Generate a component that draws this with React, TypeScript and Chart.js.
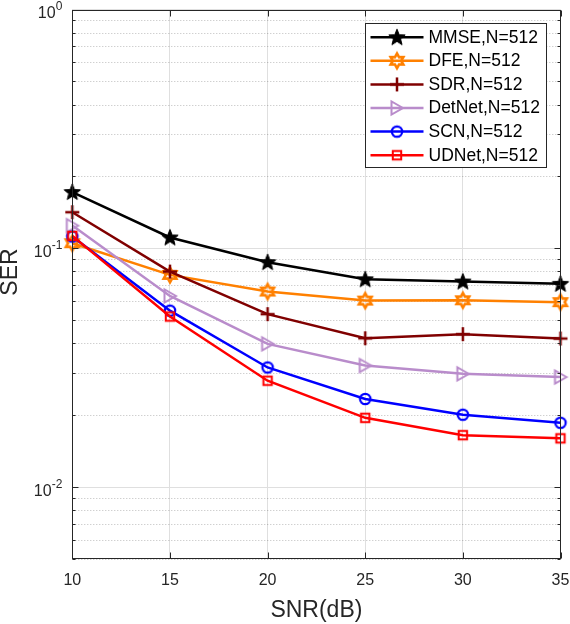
import React, { useEffect, useRef } from 'react';
import { Chart, registerables } from 'chart.js';

Chart.register(...registerables);

// ---- data ----
const snr = [10, 15, 20, 25, 30, 35];
const mmse = [0.172, 0.111, 0.0875, 0.0742, 0.0726, 0.071];
const dfe = [0.105, 0.0774, 0.0659, 0.0604, 0.0606, 0.0595];
const sdr = [0.1416, 0.0799, 0.053, 0.042, 0.0437, 0.0419];
const detnet = [0.1245, 0.0632, 0.0398, 0.0323, 0.0298, 0.0289];
const scn = [0.112, 0.0548, 0.0317, 0.0234, 0.0201, 0.0186];
const udnet = [0.1127, 0.0518, 0.0279, 0.0195, 0.0165, 0.016];

const seriesLabels = ['MMSE,N=512', 'DFE,N=512', 'SDR,N=512', 'DetNet,N=512', 'SCN,N=512', 'UDNet,N=512'];
const seriesValues = [mmse, dfe, sdr, detnet, scn, udnet];
const seriesColors = ['#000000', '#ff8000', '#800000', '#b98ccb', '#0000ff', '#ff0000'];
const markerKinds = ['pentagram', 'hexagram', 'plus', 'triRight', 'circle', 'square'];

const yTickValues = [
  0.005, 0.006, 0.007, 0.008, 0.009,
  0.01, 0.02, 0.03, 0.04, 0.05, 0.06, 0.07, 0.08, 0.09,
  0.1, 0.2, 0.3, 0.4, 0.5, 0.6, 0.7, 0.8, 0.9,
  1,
];
const yDecades = [1, 0.1, 0.01];
const yDecadeExponents = ['0', '-1', '-2'];
const xTickStep = 5;
const xTitle = 'SNR(dB)';
const yTitle = 'SER';

const FONT = "'Liberation Sans', Arial, Helvetica, sans-serif";
const AXIS_COLOR = '#262626';
const GRID_COLOR = '#dfdfdf';

function makeMarker(kind: string, color: string): HTMLCanvasElement {
  const S = 22;
  const c = document.createElement('canvas');
  c.width = S;
  c.height = S;
  const g = c.getContext('2d')!;
  const cx = S / 2;
  const cy = S / 2;
  g.strokeStyle = color;
  g.fillStyle = color;
  g.lineJoin = 'miter';
  g.beginPath();
  if (kind === 'pentagram') {
    const R = 8.6;
    const r = 3.7;
    for (let i = 0; i < 10; i++) {
      const ang = -Math.PI / 2 + (i * Math.PI) / 5;
      const rad = i % 2 === 0 ? R : r;
      const px = cx + rad * Math.cos(ang);
      const py = cy + 0.5 + rad * Math.sin(ang);
      if (i === 0) g.moveTo(px, py);
      else g.lineTo(px, py);
    }
    g.closePath();
    g.fill();
    g.lineWidth = 1;
    g.stroke();
  } else if (kind === 'hexagram') {
    const R = 7.3;
    const r = R / Math.sqrt(3);
    for (let i = 0; i < 12; i++) {
      const ang = -Math.PI / 2 + (i * Math.PI) / 6;
      const rad = i % 2 === 0 ? R : r;
      const px = cx + rad * Math.cos(ang);
      const py = cy + rad * Math.sin(ang);
      if (i === 0) g.moveTo(px, py);
      else g.lineTo(px, py);
    }
    g.closePath();
    g.lineWidth = 2.6;
    g.stroke();
  } else if (kind === 'plus') {
    g.moveTo(cx - 7, cy);
    g.lineTo(cx + 7, cy);
    g.moveTo(cx, cy - 7);
    g.lineTo(cx, cy + 7);
    g.lineWidth = 2.5;
    g.stroke();
  } else if (kind === 'triRight') {
    g.moveTo(cx + 6, cy);
    g.lineTo(cx - 5.5, cy - 6.5);
    g.lineTo(cx - 5.5, cy + 6.5);
    g.closePath();
    g.lineWidth = 2;
    g.stroke();
  } else if (kind === 'circle') {
    g.arc(cx, cy, 5.2, 0, Math.PI * 2);
    g.lineWidth = 2.2;
    g.stroke();
  } else if (kind === 'square') {
    g.rect(cx - 4.2, cy - 4.2, 8.4, 8.4);
    g.lineWidth = 2;
    g.stroke();
  }
  return c;
}

const matlabPlugin = {
  id: 'matlabStyle',
  beforeDatasetsDraw(chart: any) {
    const { ctx, chartArea: a, scales } = chart;
    const y = scales.y;
    ctx.save();
    ctx.strokeStyle = 'rgba(38,38,38,0.3)';
    ctx.lineWidth = 1;
    ctx.setLineDash([1, 2]);
    for (const v of yTickValues) {
      if (yDecades.includes(v)) continue;
      const py = Math.round(y.getPixelForValue(v)) + 0.5;
      ctx.beginPath();
      ctx.moveTo(a.left, py);
      ctx.lineTo(a.right, py);
      ctx.stroke();
    }
    ctx.restore();
  },
  afterDraw(chart: any) {
    const { ctx, chartArea: a, scales } = chart;
    const x = scales.x;
    const y = scales.y;
    ctx.save();
    // axes box
    ctx.strokeStyle = AXIS_COLOR;
    ctx.lineWidth = 1;
    ctx.setLineDash([]);
    const L = Math.round(a.left) + 0.5;
    const R = Math.round(a.right) - 0.5;
    const T = Math.round(a.top) + 0.5;
    const B = Math.round(a.bottom) - 0.5;
    ctx.strokeRect(L, T, R - L, B - T);
    // x ticks (inward, top & bottom)
    ctx.beginPath();
    for (let v = x.min; v <= x.max + 1e-9; v += xTickStep) {
      const px = Math.round(x.getPixelForValue(v)) + 0.5;
      ctx.moveTo(px, B);
      ctx.lineTo(px, B - 6);
      ctx.moveTo(px, T);
      ctx.lineTo(px, T + 6);
    }
    // y ticks (inward, left & right)
    for (const v of yTickValues) {
      const len = yDecades.includes(v) ? 6 : 3;
      const py = Math.round(y.getPixelForValue(v)) + 0.5;
      ctx.moveTo(L, py);
      ctx.lineTo(L + len, py);
      ctx.moveTo(R, py);
      ctx.lineTo(R - len, py);
    }
    ctx.stroke();

    // y decade labels 10^n
    ctx.fillStyle = AXIS_COLOR;
    ctx.textBaseline = 'alphabetic';
    ctx.textAlign = 'left';
    const labelRight = a.left - 10;
    yDecades.forEach((v, i) => {
      const py = y.getPixelForValue(v);
      const exp = yDecadeExponents[i];
      ctx.font = `12px ${FONT}`;
      const w2 = ctx.measureText(exp).width;
      ctx.font = `16px ${FONT}`;
      const w1 = ctx.measureText('10').width;
      ctx.fillText('10', labelRight - w2 - w1, py + 8.8);
      ctx.font = `12px ${FONT}`;
      ctx.fillText(exp, labelRight - w2, py + 0.5);
    });

    // y title
    ctx.save();
    ctx.font = `23px ${FONT}`;
    ctx.textAlign = 'center';
    ctx.textBaseline = 'middle';
    ctx.translate(11, 272);
    ctx.rotate(-Math.PI / 2);
    ctx.fillText(yTitle, 0, 0);
    ctx.restore();

    // legend
    const boxW = 181;
    const boxH = 144;
    const boxR = a.right - 14.7;
    const boxL = Math.round(boxR - boxW) + 0.5;
    const boxT = Math.round(a.top + 13.5) + 0.5;
    ctx.fillStyle = '#ffffff';
    ctx.fillRect(boxL, boxT, boxW, boxH);
    ctx.strokeStyle = AXIS_COLOR;
    ctx.lineWidth = 1;
    ctx.strokeRect(boxL, boxT, boxW, boxH);
    chart.data.datasets.forEach((ds: any, i: number) => {
      const ry = boxT + 13.7 + i * 23.6;
      ctx.strokeStyle = ds.borderColor;
      ctx.lineWidth = ds.borderWidth;
      ctx.beginPath();
      ctx.moveTo(boxL + 5, ry);
      ctx.lineTo(boxL + 58, ry);
      ctx.stroke();
      const m = ds.pointStyle as HTMLCanvasElement;
      ctx.drawImage(m, boxL + 31.5 - m.width / 2, ry - m.height / 2);
      ctx.fillStyle = '#000000';
      ctx.font = `17.5px ${FONT}`;
      ctx.textAlign = 'left';
      ctx.textBaseline = 'middle';
      ctx.fillText(ds.label, boxL + 63, ry + 0.5);
    });
    ctx.restore();
  },
};

export default function App() {
  const canvasRef = useRef<HTMLCanvasElement | null>(null);

  useEffect(() => {
    if (!canvasRef.current) return;
    const datasets = seriesLabels.map((label, i) => ({
      label,
      data: snr.map((s, j) => ({ x: s, y: seriesValues[i][j] })),
      borderColor: seriesColors[i],
      backgroundColor: seriesColors[i],
      borderWidth: 2.5,
      pointStyle: makeMarker(markerKinds[i], seriesColors[i]),
      pointRadius: 7,
      pointHoverRadius: 7,
      fill: false,
      tension: 0,
      clip: false as any,
      order: seriesLabels.length - i,
    }));

    const chart = new Chart(canvasRef.current, {
      type: 'line',
      data: { datasets },
      options: {
        animation: false,
        responsive: true,
        maintainAspectRatio: false,
        layout: { padding: { top: 9.5, right: 9.3, left: 0, bottom: 0 } },
        plugins: {
          legend: { display: false },
          tooltip: { enabled: false },
        },
        events: [],
        scales: {
          x: {
            type: 'linear',
            min: snr[0],
            max: snr[snr.length - 1],
            ticks: {
              stepSize: xTickStep,
              font: { size: 16, family: FONT },
              color: AXIS_COLOR,
              padding: 12,
              maxRotation: 0,
            },
            grid: { color: GRID_COLOR, drawTicks: false, lineWidth: 1 },
            border: { display: false },
            title: {
              display: true,
              text: xTitle,
              font: { size: 23, family: FONT, lineHeight: 1 },
              color: AXIS_COLOR,
              padding: { top: 0, bottom: 1.5 },
            },
            afterFit(s: any) {
              s.height = 65;
              s.paddingLeft = 0;
              s.paddingRight = 0;
            },
          },
          y: {
            type: 'logarithmic',
            min: 0.005,
            max: 1,
            afterBuildTicks(s: any) {
              s.ticks = yTickValues.map((v) => ({ value: v }));
            },
            ticks: {
              autoSkip: false,
              callback: () => '',
              font: { size: 16, family: FONT },
            },
            grid: {
              color: (c: any) => (c.tick && yDecades.includes(c.tick.value) ? GRID_COLOR : 'rgba(0,0,0,0)'),
              drawTicks: false,
              lineWidth: 1,
            },
            border: { display: false },
            afterFit(s: any) {
              s.width = 72.3;
              s.paddingTop = 0;
              s.paddingBottom = 0;
            },
          },
        },
      },
      plugins: [matlabPlugin],
    } as any);

    return () => chart.destroy();
  }, []);

  return (
    <div style={{ position: 'absolute', left: 0, top: 0, width: 570, height: 624, background: '#fff' }}>
      <canvas ref={canvasRef} />
    </div>
  );
}
